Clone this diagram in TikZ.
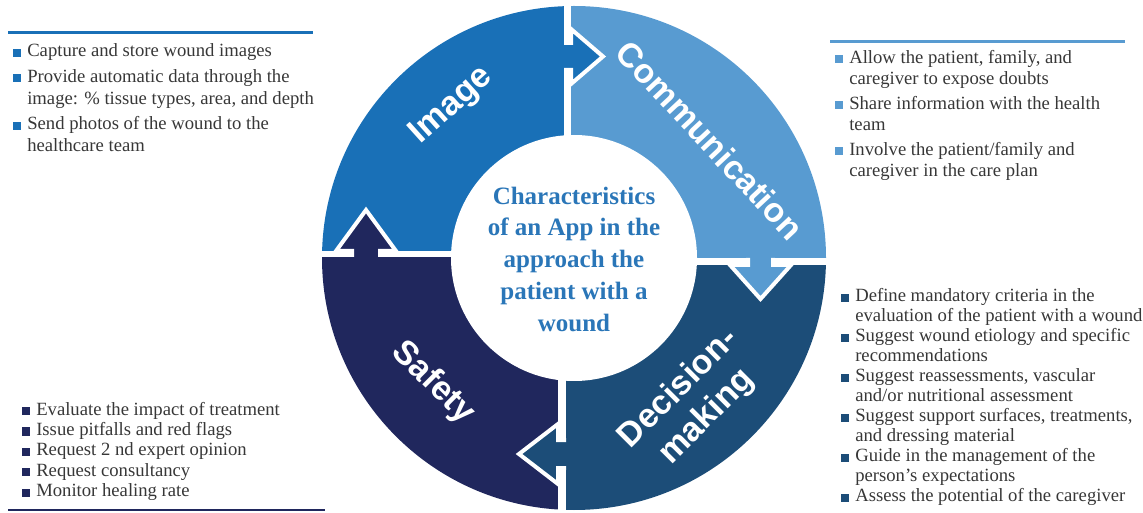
\documentclass[tikz,border=0pt]{standalone}
\usepackage{fontspec}
\setmainfont{Liberation Serif}
\newfontfamily\labelsans{Liberation Sans}
\definecolor{cimg}{RGB}{25,112,183}
\definecolor{ccom}{RGB}{88,155,209}
\definecolor{cdec}{RGB}{28,77,120}
\definecolor{csaf}{RGB}{32,39,93}
\definecolor{ctitle}{RGB}{42,118,184}
\definecolor{textgray}{RGB}{55,55,55}
\newcommand\bulletsq[1]{\llap{\textcolor{#1}{\rule{6pt}{6pt}}\hspace{5pt}}}
\begin{document}
\begin{tikzpicture}[x=0.75pt,y=-0.75pt,
  flow/.style={draw=white, line width=3pt, line join=miter},
  gap/.style={fill=white},
  qlabel/.style={text=white, align=center, inner sep=0pt,
    font=\labelsans\bfseries\fontsize{25.5pt}{30pt}\selectfont},
  itemlist/.style={anchor=base west, align=left, inner sep=0pt, text=textgray},
  toprule/.style={line width=1.9pt},
]
\useasboundingbox (0,0) rectangle (1143,513);

% four quarters of the ring
\begin{scope}
  \clip (574,258) circle [radius=189pt];
  \fill[cimg] (0,0) rectangle (567.5,254);
  \fill[ccom] (567.5,0) rectangle (1143,261.5);
  \fill[cdec] (562,261.5) rectangle (1143,513);
  \fill[csaf] (0,254) rectangle (562,513);
\end{scope}
\fill[white] (574,258) circle [radius=92.25pt];

% white separations between quarters
\fill[gap] (564,0) rectangle (571,140);
\fill[gap] (690,258) rectangle (830,265);
\fill[gap] (558,370) rectangle (566,513);
\fill[gap] (318,251) rectangle (460,257);

% arrows leading from one quarter into the next
\filldraw[flow, fill=cimg] (564,43) -- (571,43) -- (571,29) -- (603,56.5) -- (571,84) -- (571,70) -- (564,70);
\filldraw[flow, fill=ccom] (748,258) -- (748,265) -- (730,265) -- (760.5,299) -- (791,265) -- (773,265) -- (773,258);
\filldraw[flow, fill=cdec] (566,440) -- (558,440) -- (558,424) -- (519,454) -- (558,484) -- (558,468) -- (566,468);
\filldraw[flow, fill=csaf] (352,257) -- (352,251) -- (336,251) -- (366,210) -- (396,251) -- (380,251) -- (380,257);

% quarter labels
\node[qlabel, rotate=42] (lbl-image) at (452,106) {Image};
\node[qlabel, rotate=-47] (lbl-comm) at (710,140) {Communication};
\node[qlabel, rotate=45] (lbl-dec) at (693,403) {Decision-\\making};
\node[qlabel, rotate=-45] (lbl-saf) at (433,383) {Safety};

% centre title (anchored on its last line)
\node[anchor=base, align=center, inner sep=0pt, text=ctitle,
  font=\bfseries\fontsize{18.75pt}{24pt}\selectfont] (title) at (574,332)
  {Characteristics\\of an App in the\\approach the\\patient with a\\wound};

% lists of features (each anchored on its last line)
\draw[toprule, cimg] (8,32.7) -- (313,32.7);
\node[itemlist, font=\fontsize{14pt}{16.5pt}\selectfont] (list-image) at (27,151.7) {%
  \bulletsq{cimg}Capture and store wound images\\[2.6pt]
  \bulletsq{cimg}Provide automatic data through the\\
  image: \% tissue types, area, and depth\\[2.6pt]
  \bulletsq{cimg}Send photos of the wound to the\\
  healthcare team};

\draw[toprule, ccom] (830,41.7) -- (1125,41.7);
\node[itemlist, font=\fontsize{14pt}{16.1pt}\selectfont] (list-comm) at (849,176.7) {%
  \bulletsq{ccom}Allow the patient, family, and\\
  caregiver to expose doubts\\[2.3pt]
  \bulletsq{ccom}Share information with the health\\
  team\\[2.3pt]
  \bulletsq{ccom}Involve the patient/family and\\
  caregiver in the care plan};

\node[itemlist, font=\fontsize{14pt}{15pt}\selectfont] (list-dec) at (855,501.7) {%
  \bulletsq{cdec}Define mandatory criteria in the\\
  evaluation of the patient with a wound\\
  \bulletsq{cdec}Suggest wound etiology and specific\\
  recommendations\\
  \bulletsq{cdec}Suggest reassessments, vascular\\
  and/or nutritional assessment\\
  \bulletsq{cdec}Suggest support surfaces, treatments,\\
  and dressing material\\
  \bulletsq{cdec}Guide in the management of the\\
  person's expectations\\
  \bulletsq{cdec}Assess the potential of the caregiver};

\node[itemlist, font=\fontsize{14pt}{15.3pt}\selectfont] (list-saf) at (36,496.7) {%
  \bulletsq{csaf}Evaluate the impact of treatment\\
  \bulletsq{csaf}Issue pitfalls and red flags\\
  \bulletsq{csaf}Request 2 nd expert opinion\\
  \bulletsq{csaf}Request consultancy\\
  \bulletsq{csaf}Monitor healing rate};
\draw[toprule, csaf] (8,510) -- (325,510);
\end{tikzpicture}
\end{document}
